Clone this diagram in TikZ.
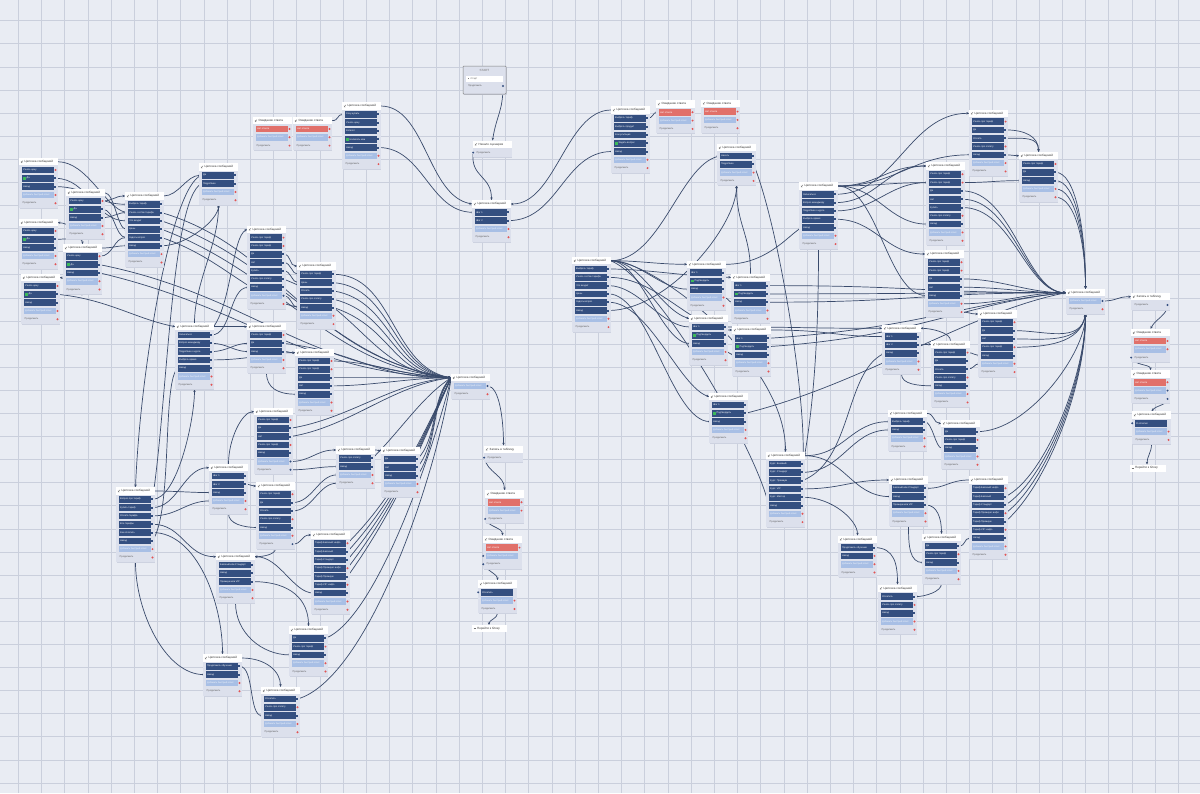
\documentclass[tikz,border=0pt]{standalone}
\usepackage{fontspec}
\setmainfont{Liberation Sans}
\usetikzlibrary{arrows.meta}
\pgfdeclarelayer{grid}\pgfdeclarelayer{wires}\pgfsetlayers{grid,wires,main}
\definecolor{bgc}{RGB}{233,236,243}
\definecolor{gridc}{RGB}{202,207,220}
\definecolor{cardc}{RGB}{220,224,236}
\definecolor{shadc}{RGB}{205,210,224}
\definecolor{dkc}{RGB}{52,79,128}
\definecolor{ltc}{RGB}{168,191,229}
\definecolor{rdc}{RGB}{225,112,106}
\definecolor{dotc}{RGB}{226,84,84}
\definecolor{wirec}{RGB}{58,75,108}
\definecolor{grc}{RGB}{60,185,90}
\tikzset{
 htext/.style={anchor=west,inner sep=0pt,font=\fontsize{3}{3.4}\selectfont,text=black!80},
 rtext/.style={anchor=west,inner sep=0pt,font=\fontsize{2.4}{2.8}\selectfont,text=white},
 ltext/.style={anchor=west,inner sep=0pt,font=\fontsize{2.3}{2.7}\selectfont,text=white!85!ltc},
 ctext/.style={anchor=west,inner sep=0pt,font=\fontsize{2.4}{2.8}\selectfont,text=black!65},
 wire/.style={draw=wirec,line width=0.7pt,-{Stealth[length=2.8pt,width=2.4pt]}},
 gridline/.style={draw=gridc,line width=0.6pt}
}
% row types
\newcommand\rwbar[3]{\fill[#3] ({#1+1.5},{#2-3.3}) rectangle ({#1+33.5},{#2+3.3});}
\newcommand\rwd[3]{\rwbar{#1}{#2}{dkc}\node[rtext] at ({#1+3},#2) {#3};\fill[dotc] ({#1+35.5},#2) circle (1.1);}
\newcommand\rwD[3]{\rwbar{#1}{#2}{dkc}\node[rtext] at ({#1+3},#2) {#3};\fill[dkc] ({#1+34.3},{#2-1}) rectangle ({#1+36.3},{#2+1});}
\newcommand\rwg[3]{\rwbar{#1}{#2}{dkc}\fill[grc] ({#1+3},{#2-1.4}) rectangle ({#1+5.8},{#2+1.4});\node[rtext] at ({#1+6.5},#2) {#3};\fill[dkc] ({#1+34.3},{#2-1}) rectangle ({#1+36.3},{#2+1});}
\newcommand\rwB[3]{\rwbar{#1}{#2}{dkc}\node[rtext] at ({#1+3},#2) {#3};\fill[dkc] ({#1-0.8},#2) circle (1.1);}
\newcommand\rwl[3]{\rwbar{#1}{#2}{ltc}\node[ltext] at ({#1+3},#2) {Добавить быстрый ответ};\fill[dotc] ({#1+35.5},#2) circle (1.1);}
\newcommand\rwL[3]{\rwbar{#1}{#2}{ltc}\node[ltext] at ({#1+3},#2) {Добавить быстрый ответ};\fill[dkc] ({#1+35.5},#2) circle (1.1);}
\newcommand\rwF[3]{\rwbar{#1}{#2}{ltc}\node[ltext] at ({#1+3},#2) {Добавить быстрый ответ};\fill[dkc] ({#1-0.8},#2) circle (1.1);}
\newcommand\rwr[3]{\rwbar{#1}{#2}{rdc}\node[rtext] at ({#1+3},#2) {#3};\fill[dotc] ({#1+35.5},#2) circle (1.1);}
\newcommand\rwc[3]{\node[ctext] at ({#1+2.5},#2) {Продолжить};\fill[dotc] ({#1+35.5},#2) circle (1.1);}
\newcommand\rwC[3]{\node[ctext] at ({#1+2.5},#2) {Продолжить};\fill[dkc] ({#1+35.5},#2) circle (1.1);}
\newcommand\rwE[3]{\node[ctext] at ({#1+2.5},#2) {Продолжить};\fill[dkc] ({#1-0.8},#2) circle (1.1);}
% card: [title]{name}{x}{y}{rows}
\newcommand\card[5][Цепочка сообщений]{%
 \foreach \rt/\rl [count=\ri] in {#5} {\xdef\cardn{\ri}}%
 \pgfmathsetmacro\cbot{#4+8.3*\cardn+4.5}%
 \fill[shadc] ({#3-0.2},{#4-3.2}) rectangle ({#3+38.4},{\cbot+1});
 \fill[cardc] ({#3-0.8},{#4-3.8}) rectangle ({#3+37.6},\cbot);
 \fill[white] ({#3-0.8},{#4-3.8}) rectangle ({#3+37.6},{#4+3.6});
 \draw[black!55,line width=0.3pt] ({#3+1},{#4+1.2}) -- ({#3+3},{#4-1.2}) ({#3+1},{#4-0.4}) -- ({#3+2.2},{#4+1.2});
 \node[htext] at ({#3+4.5},#4) {#1};
 \coordinate (#2-h) at ({#3-0.8},#4);
 \coordinate (#2-hr) at ({#3+37.6},#4);
 \coordinate (#2-t) at ({#3+18.5},{#4-3.8});
 \coordinate (#2-b) at ({#3+18.5},\cbot);
 \foreach \rt/\rl [count=\ri] in {#5} {%
   \pgfmathsetmacro\ry{#4+8.3*\ri}%
   \coordinate (#2-r\ri) at ({#3+35.5},\ry);
   \coordinate (#2-l\ri) at ({#3+1.5},\ry);
   \coordinate (#2-o\ri) at ({#3-0.8},\ry);
   \csname rw\rt\endcsname{#3}{\ry}{\rl}%
 }%
}
\newcommand\wc[6]{\draw[wire] (#1) .. controls +(#3,#4) and +(#5,#6) .. (#2);}
\begin{document}
\begin{tikzpicture}[x=1pt,y=-1pt]
\useasboundingbox (0,0) rectangle (1200,793);
\begin{pgfonlayer}{grid}
\fill[bgc] (0,0) rectangle (1200,793);
\foreach \k in {0,...,50} \draw[gridline] ({18.3+23.2*\k},0) -- ({18.3+23.2*\k},793);
\foreach \k in {0,...,33} \draw[gridline] (0,{20.6+23.1*\k}) -- (1200,{20.6+23.1*\k});
\end{pgfonlayer}

% START
\fill[shadc] (463.6,66.6) rectangle (507,95);
\draw[black!50,fill=cardc,line width=0.5pt,rounded corners=0.8pt] (463,66) rectangle (506,94);
\node[inner sep=0pt,font=\fontsize{3}{3.4}\selectfont,text=black!55] (S0) at (484.5,70) {START};
\fill[white] (466,75.5) rectangle (503,81.5);
\fill[black!50] (467.5,77.7) rectangle (469,79.2);
\node[ctext] (S0r) at (470.5,78.5) {Старт};
\node[ctext] (S0c) at (468,86) {Продолжить};
\fill[dkc] (503,86) circle (1.2);
\coordinate (S0-o) at (503,86);

% left cluster
\card{A}{20}{161.7}{d/Узнать цену,g/Да,D/Назад,l/,c/}
\card{B}{67}{192.7}{d/Узнать цену,g/Да,D/Назад,l/,c/}
\card{C}{126}{196}{D/Выбрать тариф,D/Узнать состав тарифа,D/Что входит,D/Цены,D/Задать вопрос,D/Назад,l/,c/}
\card{D}{20}{222.7}{d/Узнать цену,g/Да,D/Назад,l/,c/}
\card{E}{64}{248}{d/Узнать цену,g/Да,D/Назад,l/,c/}
\card{F}{22}{277.7}{d/Узнать цену,g/Да,D/Назад,l/,c/}
\card{G}{200}{167}{D/Да,D/Подробнее,l/,c/}
\card[Ожидание ответа]{H}{254}{120.7}{r/Нет ответа,l/,c/}
\card[Ожидание ответа]{I}{294}{120.7}{r/Нет ответа,l/,c/}
\card{J}{343}{106}{D/Хочу купить,D/Узнать цену,D/Каталог,g/Написать нам,D/Назад,l/,c/}
\card{K}{248}{229.3}{d/Узнать про тариф,d/Узнать про тариф,D/Да,D/Нет,D/Купить,D/Узнать про оплату,D/Назад,L/,c/}
\card{L}{298}{266}{D/Узнать про тариф,D/Цены,D/Оплата,D/Узнать про оплату,D/Назад,l/,c/}
\card{M}{176}{326.7}{D/Записаться,D/Вопрос менеджеру,D/Подробнее о курсе,D/Выбрать время,D/Назад,l/,c/}
\card{N}{248}{326.7}{d/Узнать про тариф,D/Да,D/Назад,l/,c/}
\card{O}{296}{352.7}{d/Узнать про тариф,d/Узнать про тариф,D/Да,D/Нет,D/Назад,l/,c/}
\card{P}{255}{411.7}{d/Узнать про тариф,D/Да,D/Нет,d/Узнать про тариф,D/Назад,L/,C/}
\card{Q}{337}{450}{D/Узнать про оплату,D/Назад,l/,c/}
\card{R}{382}{450.7}{D/Да,D/Нет,D/Назад,l/,c/}
\card{S}{210}{467.7}{D/Шаг 1,D/Шаг 2,D/Назад,l/,c/}
\card{T}{257}{486}{d/Узнать про тариф,D/Да,D/Оплата,d/Узнать про оплату,D/Назад,l/,C/}
\card{U}{117}{491}{D/Вопрос про тариф,D/Купить тариф,D/Оплата тарифа,D/Все тарифы,D/Как оплатить,D/Назад,l/,c/}
\card{V}{312}{535}{d/Тариф Базовый: инфо,D/Тариф Базовый,D/Тариф Стандарт,d/Тариф Премиум: инфо,D/Тариф Премиум,d/Тариф VIP: инфо,D/Назад,l/,c/}
\card{W}{217}{556.7}{D/Базовый или Стандарт,D/Назад,D/Премиум или VIP,l/,c/}
\card{X}{290}{630}{D/Да,d/Узнать про тариф,D/Назад,l/,c/}
\card{Y}{204}{658}{D/Продолжить обучение,D/Назад,l/,c/}
\card{Z}{262}{690.7}{D/Оплатить,d/Узнать про оплату,D/Назад,l/,c/}

% centre
\card[Начало сценария]{N0}{474}{144.3}{E/}
\card{AA}{473}{204}{D/Шаг 1,D/Шаг 2,l/,c/}
\card{AK}{452}{377.7}{L/,c/}
\card[Запись в таблицу]{BH}{485}{449.3}{E/}
\card[Ожидание ответа]{BI}{486}{494}{r/Нет ответа,l/,E/}
\card[Ожидание ответа]{BJ}{484}{539.3}{r/Нет ответа,F/,E/}
\card{BK}{479}{584}{B/Оплатить,l/,c/}
\fill[white] (472,625) rectangle (507,632);
\node[htext] (E2) at (477,628.5) {Перейти к блоку};
\draw[black!55,line width=0.3pt] (473.5,628.5) -- (476,628.5);
\coordinate (E2-t) at (489,625);

% upper middle
\card{AB}{612}{110}{D/Выбрать тариф,D/Выбрать продукт,D/Консультация,g/Задать вопрос,D/Назад,l/,c/}
\card[Ожидание ответа]{AC}{657}{104}{r/Нет ответа,l/,c/}
\card[Ожидание ответа]{AD}{702}{103.3}{r/Нет ответа,l/,c/}
\card{AE}{718}{147.7}{D/Начать,D/Подробнее,l/,c/}
\card{AF}{573}{260.7}{D/Выбрать тариф,D/Узнать состав тарифа,D/Что входит,D/Цены,D/Задать вопрос,D/Назад,l/,c/}
\card{AG}{688}{264.3}{D/Шаг 1,g/Подтвердить,D/Назад,l/,c/}
\card{AH}{732}{277.3}{D/Шаг 1,g/Подтвердить,D/Назад,l/,c/}
\card{AI}{690}{318.7}{D/Шаг 1,g/Подтвердить,D/Назад,l/,c/}
\card{AJ}{733}{330}{D/Шаг 1,g/Подтвердить,D/Назад,l/,c/}
\card{AL}{710}{396.7}{D/Шаг 1,g/Подтвердить,D/Назад,l/,c/}
\card{AM}{767}{455.7}{D/Курс: Базовый,D/Курс: Стандарт,D/Курс: Премиум,D/Курс: VIP,D/Курс: Мастер,D/Назад,l/,c/}

% right
\card{AN}{889}{413.3}{D/Выбрать тариф,D/Назад,l/,c/}
\card{AO}{942}{423.3}{D/Да,d/Узнать про тариф,D/Назад,l/,c/}
\card{AP}{890}{480}{D/Базовый или Стандарт,D/Назад,D/Премиум или VIP,l/,c/}
\card{AQ}{970}{480}{d/Тариф Базовый: инфо,D/Тариф Базовый,D/Тариф Стандарт,d/Тариф Премиум: инфо,D/Тариф Премиум,d/Тариф VIP: инфо,D/Назад,l/,c/}
\card{AR}{839}{539.3}{D/Продолжить обучение,d/Назад,l/,c/}
\card{AS}{923}{537.7}{D/Да,d/Узнать про тариф,D/Назад,l/,c/}
\card{AT}{879}{588.3}{D/Оплатить,d/Узнать про оплату,D/Назад,l/,c/}
\card{AU}{883}{328.3}{D/Шаг 1,D/Шаг 2,D/Назад,l/,c/}
\card{AV}{932}{344.3}{d/Узнать про тариф,D/Да,D/Оплата,d/Узнать про оплату,D/Назад,l/,c/}
\card{AW}{979}{314}{d/Узнать про тариф,D/Да,D/Нет,d/Узнать про тариф,D/Назад,l/,c/}
\card{AX}{970}{113.3}{d/Узнать про тариф,D/Да,D/Оплата,d/Узнать про оплату,D/Назад,l/,c/}
\card{AY}{1020}{155.7}{d/Узнать про тариф,D/Да,D/Назад,l/,c/}
\card{AZ}{927}{166}{d/Узнать про тариф,d/Узнать про тариф,D/Да,D/Нет,D/Купить,d/Узнать про оплату,D/Назад,l/,c/}
\card{BA}{800}{186}{D/Записаться,D/Вопрос менеджеру,D/Подробнее о курсе,D/Выбрать время,D/Назад,l/,c/}
\card{BB}{926}{254}{d/Узнать про тариф,d/Узнать про тариф,D/Да,D/Нет,D/Назад,l/,c/}
\card{BC}{1067}{292.7}{L/,c/}
\card[Запись в таблицу]{BD}{1132}{296.7}{C/}
\card[Ожидание ответа]{BE}{1132}{332.7}{r/Нет ответа,l/,E/}
\card[Ожидание ответа]{BF}{1132}{374}{r/Нет ответа,L/,C/}
\card{BG}{1133}{415}{B/Я оплатил,l/,c/}
\fill[white] (1130,464.5) rectangle (1166,471.5);
\node[htext] (E1) at (1135,468) {Перейти к блоку};
\draw[black!55,line width=0.3pt] (1131.5,468) -- (1134,468);
\coordinate (E1-t) at (1147,464.5);

\begin{pgfonlayer}{wires}
% top centre
\wc{S0-o}{N0-t}{0}{25}{4}{-25}
\wc{N0-o1}{AA-t}{-3}{25}{0}{-25}
\wc{J-hr}{AA-h}{45}{0}{-45}{-8}
\wc{J-r5}{AA-l1}{45}{0}{-45}{0}
\wc{AA-r2}{AB-l5}{50}{0}{-50}{0}
\wc{AB-h}{AA-hr}{-45}{0}{45}{0}
\wc{AB-r1}{AC-l1}{6}{0}{-6}{0}
\wc{I-hr}{J-l1}{8}{0}{-8}{0}
% left cluster
\wc{A-hr}{C-l2}{30}{0}{-22}{-4}
\wc{A-r2}{C-l3}{32}{0}{-32}{0}
\wc{A-r3}{C-l1}{32}{0}{-32}{0}
\wc{B-hr}{C-l4}{10}{0}{-10}{0}
\wc{B-r1}{C-h}{10}{0}{-10}{0}
\wc{B-r2}{C-l5}{12}{0}{-12}{0}
\wc{B-r3}{C-l2}{10}{0}{-10}{0}
\wc{D-r2}{E-t}{14}{0}{0}{-8}
\wc{B-b}{D-hr}{0}{-5}{10}{0}
\wc{E-hr}{C-l6}{12}{0}{-12}{0}
\wc{E-r1}{C-l5}{14}{0}{-14}{0}
\wc{E-r2}{AK-h}{150}{30}{-150}{-10}
\wc{E-r3}{AK-h}{150}{35}{-150}{-5}
\wc{F-r2}{M-h}{50}{5}{-40}{-8}
\wc{E-b}{F-hr}{0}{6}{10}{0}
\wc{C-r2}{AK-h}{120}{35}{-140}{-20}
\wc{C-r3}{AK-h}{120}{40}{-120}{-15}
\wc{C-r4}{AK-h}{120}{45}{-120}{-10}
\wc{C-r5}{L-l5}{60}{20}{-50}{-10}
\wc{C-hr}{G-l1}{15}{0}{-15}{0}
\wc{C-r6}{G-b}{25}{0}{0}{15}
\wc{G-l1}{U-t}{-30}{10}{5}{-120}
\wc{G-l2}{U-r1}{-30}{15}{15}{-100}
\wc{M-t}{G-b}{0}{-40}{0}{40}
\wc{M-hr}{K-h}{18}{-25}{-15}{8}
\wc{M-r1}{K-l7}{20}{0}{-20}{0}
\wc{M-hr}{N-h}{10}{0}{-10}{0}
\wc{M-r2}{N-l3}{15}{0}{-15}{0}
\wc{M-r3}{N-l2}{15}{0}{-15}{0}
\wc{M-r4}{O-h}{40}{0}{-30}{0}
\wc{N-r3}{O-h}{7}{0}{-7}{0}
\wc{N-b}{O-l5}{0}{15}{-20}{0}
\wc{N-r2}{AK-h}{80}{10}{-80}{0}
\wc{K-r3}{L-h}{8}{0}{-8}{0}
\wc{K-r4}{L-l1}{8}{0}{-8}{0}
\wc{K-r5}{L-l2}{8}{0}{-8}{0}
\wc{K-r6}{AK-h}{80}{30}{-80}{-5}
\wc{K-r8}{L-l5}{8}{0}{-8}{0}
\wc{L-r1}{AK-h}{60}{0}{-60}{-10}
\wc{L-r2}{AK-h}{60}{5}{-60}{-8}
\wc{L-r3}{AK-h}{60}{10}{-60}{-6}
\wc{L-r4}{AK-h}{60}{15}{-60}{-4}
\wc{L-r5}{AK-h}{60}{20}{-60}{-2}
\wc{O-r1}{AK-h}{40}{0}{-40}{0}
\wc{O-r3}{AK-h}{40}{0}{-40}{0}
\wc{O-r4}{AK-h}{40}{0}{-40}{0}
\wc{P-r2}{AK-h}{60}{-10}{-60}{5}
\wc{P-r3}{AK-h}{60}{-10}{-60}{8}
\wc{S-t}{P-h}{0}{-25}{-12}{0}
\wc{P-r6}{Q-h}{20}{0}{-20}{0}
\wc{P-r7}{Q-l2}{20}{0}{-20}{0}
\wc{Q-hr}{R-h}{5}{0}{-5}{0}
\wc{Q-r1}{AK-h}{30}{-30}{-30}{20}
\wc{R-r1}{AK-h}{20}{-20}{-20}{20}
\wc{R-r2}{AK-h}{20}{-25}{-20}{22}
\wc{R-r3}{AK-h}{20}{-30}{-20}{25}
\wc{T-r2}{Q-l3}{20}{0}{-20}{0}
\wc{T-r3}{Q-l4}{20}{0}{-20}{0}
\wc{S-r2}{T-h}{6}{0}{-6}{0}
\wc{S-b}{T-l5}{0}{10}{-15}{0}
\wc{T-r7}{V-h}{10}{0}{-10}{0}
\wc{T-b}{W-hr}{0}{6}{8}{0}
\wc{V-l7}{W-hr}{-20}{0}{25}{0}
\wc{V-r1}{AK-h}{50}{-50}{-30}{60}
\wc{V-r2}{AK-h}{50}{-55}{-30}{62}
\wc{V-r3}{AK-h}{50}{-60}{-30}{64}
\wc{V-r4}{AK-h}{50}{-65}{-30}{66}
\wc{V-r5}{AK-h}{50}{-70}{-30}{68}
\wc{U-hr}{S-l3}{20}{0}{-20}{0}
\wc{U-r1}{M-b}{25}{0}{0}{30}
\wc{U-r2}{S-h}{25}{0}{-25}{0}
\wc{U-r3}{S-l4}{25}{0}{-25}{0}
\wc{U-r4}{W-h}{30}{0}{-30}{0}
\wc{U-r5}{Y-t}{45}{0}{0}{-50}
\wc{U-r6}{M-l5}{20}{-30}{-15}{20}
\wc{U-b}{Y-l2}{0}{50}{-40}{0}
\wc{W-r3}{X-t}{40}{0}{0}{-25}
\wc{W-b}{X-l3}{0}{30}{-30}{0}
\wc{Y-hr}{Z-t}{25}{0}{0}{-15}
\wc{Y-r1}{Z-l3}{15}{0}{-15}{0}
\wc{X-r1}{AK-h}{50}{-20}{-20}{80}
\wc{Z-r1}{AK-h}{70}{-20}{-15}{100}
% bottom centre chain
\wc{AK-r1}{BH-t}{12}{0}{0}{-25}
\wc{BH-o1}{BI-t}{3}{15}{0}{-15}
\wc{BI-o3}{BJ-t}{3}{8}{0}{-8}
\wc{BJ-o3}{BK-t}{3}{6}{0}{-6}
\wc{BK-b}{E2-t}{0}{5}{0}{-5}
% middle right
\wc{AF-hr}{AE-l1}{50}{0}{-40}{10}
\wc{AF-hr}{AG-h}{30}{0}{-30}{0}
\wc{AF-hr}{AG-l3}{30}{0}{-30}{0}
\wc{AF-hr}{AI-h}{30}{0}{-30}{-10}
\wc{AF-hr}{AI-l3}{30}{0}{-30}{0}
\wc{AF-hr}{AM-t}{45}{0}{0}{-90}
\wc{AF-hr}{AM-l6}{50}{20}{-10}{-50}
\wc{AF-r1}{AH-h}{40}{0}{-40}{0}
\wc{AF-r2}{AJ-h}{50}{0}{-40}{0}
\wc{AF-r3}{AI-l1}{30}{0}{-30}{0}
\wc{AF-r4}{AL-l3}{40}{0}{-40}{0}
\wc{AF-r5}{AL-h}{40}{0}{-30}{-10}
\wc{AF-r6}{AE-b}{60}{0}{0}{40}
\wc{AE-r2}{AM-r1}{25}{60}{5}{-60}
\wc{AH-t}{AE-b}{0}{-40}{0}{40}
\wc{AG-r4}{AH-l3}{5}{0}{-5}{0}
\wc{AI-r4}{AJ-l3}{5}{0}{-5}{0}
\wc{AH-r1}{BC-h}{150}{0}{-150}{0}
\wc{AH-r2}{BC-h}{150}{0}{-150}{0}
\wc{AH-r3}{BC-h}{150}{0}{-150}{0}
\wc{AJ-r1}{BC-h}{150}{-10}{-100}{10}
\wc{AJ-r2}{BC-h}{150}{-10}{-100}{10}
\wc{AL-r2}{BC-h}{120}{-30}{-100}{20}
\wc{AM-hr}{AN-l1}{40}{0}{-40}{0}
\wc{AM-hr}{AP-l2}{40}{0}{-40}{0}
\wc{AM-r2}{AN-l2}{40}{0}{-40}{0}
\wc{AM-r3}{AU-l3}{50}{-20}{-40}{20}
\wc{AM-r4}{AP-h}{40}{0}{-40}{0}
\wc{AM-r5}{AR-t}{30}{0}{0}{-15}
\wc{BA-b}{AM-hr}{0}{80}{10}{-60}
\wc{AN-r1}{AO-l3}{8}{0}{-8}{0}
\wc{AN-hr}{AO-h}{8}{0}{-8}{0}
\wc{AO-r1}{BC-b}{50}{0}{0}{40}
\wc{AQ-h}{AP-r1}{-20}{0}{20}{0}
\wc{AP-r3}{AS-t}{12}{0}{0}{-15}
\wc{AP-b}{AS-l3}{0}{20}{-15}{0}
\wc{AR-r1}{AT-t}{20}{0}{0}{-20}
\wc{AS-b}{AT-r1}{0}{8}{10}{0}
\wc{AS-r1}{AQ-l7}{8}{0}{-8}{0}
\wc{AQ-r2}{BC-b}{40}{-20}{0}{60}
\wc{AQ-r3}{BC-b}{40}{-25}{0}{65}
\wc{AQ-r4}{BC-b}{40}{-30}{0}{70}
\wc{AQ-r5}{BC-b}{40}{-35}{0}{75}
\wc{AV-t}{AU-hr}{0}{-8}{10}{0}
\wc{AU-r2}{AV-h}{6}{0}{-6}{0}
\wc{AU-b}{AV-l5}{0}{10}{-15}{0}
\wc{AV-r1}{AW-l5}{6}{0}{-6}{0}
\wc{AV-r3}{AW-l6}{6}{0}{-6}{0}
\wc{AW-r2}{BC-b}{30}{0}{-5}{30}
\wc{AW-r3}{BC-b}{30}{0}{-5}{30}
\wc{AW-r4}{BC-b}{30}{0}{-5}{30}
\wc{BB-r7}{AW-h}{8}{0}{-8}{0}
\wc{AI-r1}{AU-h}{80}{0}{-80}{0}
\wc{AJ-hr}{AU-l1}{60}{0}{-50}{0}
% upper right
\wc{BA-hr}{AX-l5}{60}{0}{-60}{0}
\wc{BA-hr}{AZ-h}{40}{0}{-40}{0}
\wc{BA-hr}{AZ-l2}{40}{0}{-40}{0}
\wc{BA-hr}{AZ-l7}{40}{0}{-40}{0}
\wc{BA-hr}{BB-l5}{40}{0}{-40}{0}
\wc{BA-r1}{AX-h}{60}{0}{-60}{0}
\wc{BA-r2}{AZ-h}{40}{0}{-40}{0}
\wc{BA-r3}{AZ-l2}{40}{0}{-40}{0}
\wc{BA-r4}{BB-h}{40}{0}{-40}{0}
\wc{AG-hr}{BA-l5}{40}{0}{-15}{10}
\wc{AX-r2}{AY-t}{20}{0}{0}{-15}
\wc{AX-r3}{AY-t}{20}{0}{0}{-15}
\wc{AX-r5}{AY-h}{6}{0}{-6}{0}
\wc{AZ-r2}{AY-l3}{25}{0}{-25}{0}
\wc{AY-r2}{BC-t}{20}{0}{0}{-60}
\wc{AY-r3}{BC-t}{20}{0}{0}{-55}
\wc{AY-r4}{BC-t}{20}{0}{0}{-50}
\wc{AY-r5}{BC-t}{20}{0}{0}{-45}
\wc{AZ-r3}{BC-h}{50}{0}{-40}{0}
\wc{AZ-r4}{BC-h}{50}{0}{-40}{0}
\wc{AZ-r5}{BC-h}{50}{0}{-40}{0}
\wc{BB-r3}{BC-h}{40}{0}{-40}{0}
\wc{BB-r4}{BC-h}{40}{0}{-40}{0}
\wc{BB-r6}{BC-h}{40}{0}{-40}{0}
\wc{BC-r1}{BD-h}{15}{0}{-15}{0}
\wc{BD-r1}{BE-t}{0}{10}{5}{-10}
\wc{BE-o3}{BF-t}{3}{8}{0}{-6}
\wc{BF-r3}{BG-t}{0}{6}{5}{-6}
\wc{BG-b}{E1-t}{0}{8}{0}{-8}
\end{pgfonlayer}
\end{tikzpicture}
\end{document}
